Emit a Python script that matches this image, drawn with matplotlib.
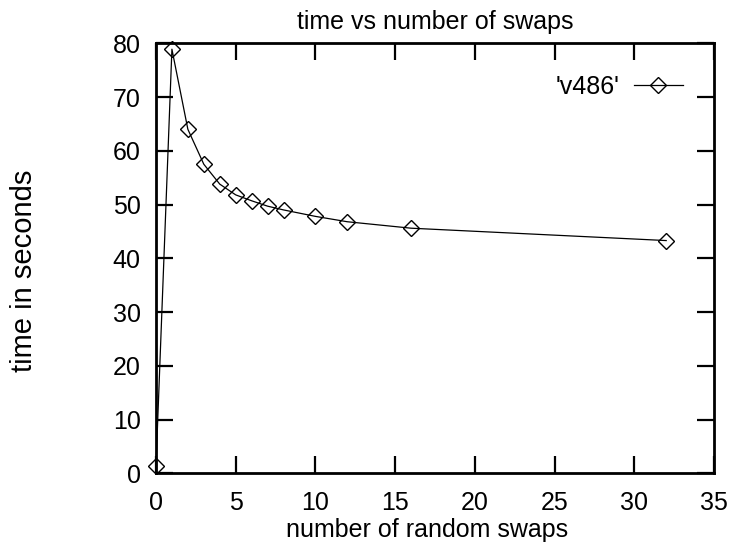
import matplotlib
matplotlib.use("Agg")
import matplotlib.pyplot as plt

# number of random swaps vs run time
swaps = [0, 1, 2, 3, 4, 5, 6, 7, 8, 10, 12, 16, 32]
seconds = [1.4, 78.9, 64.0, 57.5, 53.8, 51.8, 50.7, 49.7, 49.0, 47.8, 46.8, 45.6, 43.3]
series_name = "'v486'"
x_ticks = [0, 5, 10, 15, 20, 25, 30, 35]
y_ticks = [0, 10, 20, 30, 40, 50, 60, 70, 80]

plt.rcParams["font.family"] = ["Liberation Sans", "DejaVu Sans"]
fs = 18

fig = plt.figure(figsize=(7.34, 5.48), dpi=100)
ax = fig.add_axes([0.2125, 0.1363, 0.7603, 0.7847])

ax.plot(swaps, seconds, color="black", lw=0.9, marker="D", ms=8.3,
        mfc="none", mec="black", mew=1.0, label=series_name, clip_on=False)

ax.set_xlim(0, 35)
ax.set_ylim(0, 80)
ax.set_xticks(x_ticks)
ax.set_yticks(y_ticks)
ax.tick_params(direction="in", length=12.5, width=1.6, top=True, right=True,
               labelsize=fs)
ax.tick_params(axis="x", pad=13)
ax.tick_params(axis="y", pad=11)
for s in ax.spines.values():
    s.set_linewidth(2.0)

ax.set_title("time vs number of swaps", fontsize=fs, pad=10)
ax.set_xlabel("number of random swaps", fontsize=fs)
ax.set_ylabel("time in seconds", fontsize=21)
ax.xaxis.set_label_coords(0.485, -0.105)
ax.yaxis.set_label_coords(-0.212, 0.471)

ax.legend(loc="center right", bbox_to_anchor=(0.944, 0.899), frameon=False,
          markerfirst=False, fontsize=fs, handlelength=1.95,
          handletextpad=0.6, borderpad=0, borderaxespad=0)

fig.savefig("out.png", dpi=100)
